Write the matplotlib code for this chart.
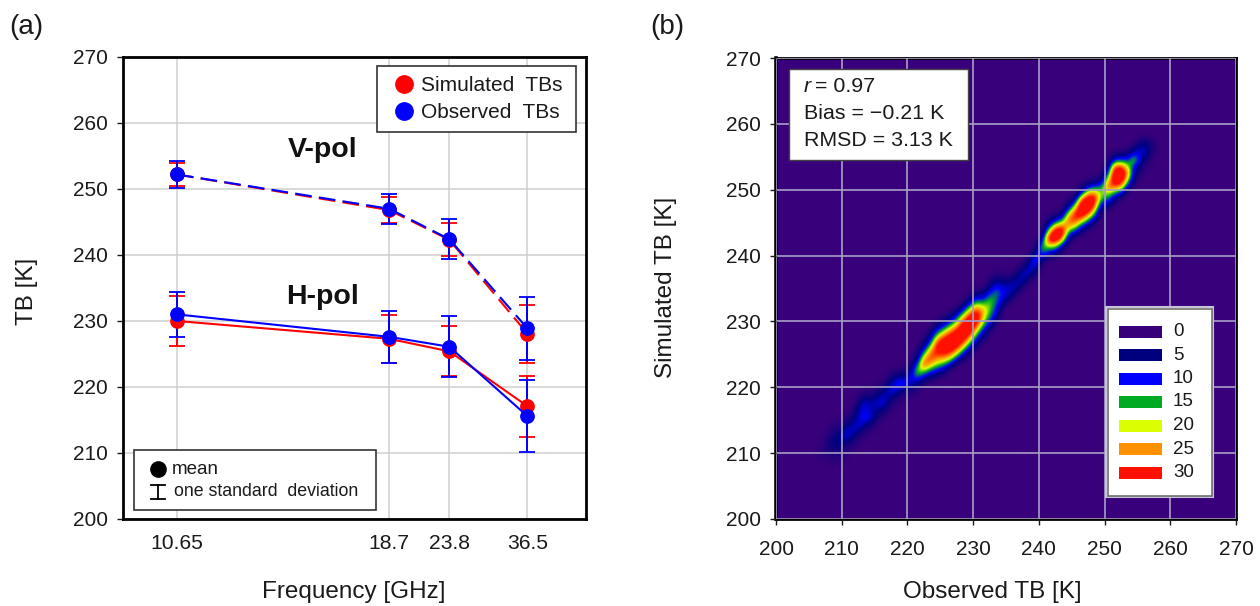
import numpy as np
import matplotlib
matplotlib.use("Agg")
import matplotlib.pyplot as plt
from matplotlib.colors import LinearSegmentedColormap
from matplotlib.patches import Rectangle
from matplotlib.lines import Line2D

plt.rcParams['font.family'] = ['Liberation Sans', 'DejaVu Sans']

W, H = 1260, 606

# ---------- data ----------
freq_labels = ['10.65', '18.7', '23.8', '36.5']
freq_pos = [177, 389.3, 449.3, 527.3]   # irregular category spacing

v_sim = [252.2, 246.8, 242.3, 228.1]
v_sim_sd = [1.8, 2.0, 2.5, 4.4]
v_obs = [252.2, 247.0, 242.4, 228.9]
v_obs_sd = [2.0, 2.3, 3.0, 4.75]
h_sim = [230.0, 227.3, 225.4, 217.1]
h_sim_sd = [3.75, 3.6, 3.8, 4.6]
h_obs = [231.0, 227.6, 226.1, 215.6]
h_obs_sd = [3.45, 3.9, 4.6, 5.4]

# density counts: observed TB -> (first simulated TB, counts per 1 K)
density_rows = {
    206: (209, [1, 1]),
    207: (209, [1, 2, 2, 1]),
    208: (208, [1, 2, 3, 5, 3, 2, 1]),
    209: (208, [1, 2, 3, 6, 5, 3, 1]),
    210: (209, [1, 2, 4, 9, 7, 3, 1]),
    211: (210, [1, 3, 6, 9, 5, 3, 1]),
    212: (211, [1, 2, 6, 10, 6, 7, 3, 1]),
    213: (212, [1, 3, 6, 13, 9, 10, 4, 1]),
    214: (213, [1, 4, 8, 7, 6, 4, 1]),
    215: (214, [1, 3, 5, 9, 6, 3, 1]),
    216: (215, [1, 4, 8, 9, 4, 2]),
    217: (216, [1, 2, 5, 10, 7, 3, 1]),
    218: (217, [1, 3, 7, 12, 6, 2]),
    219: (218, [1, 3, 13, 6, 2]),
    220: (218, [1, 3, 7, 9, 5, 2]),
    221: (219, [1, 5, 13, 19, 11, 4, 1]),
    222: (220, [1, 7, 18, 30, 22, 11, 4, 1]),
    223: (221, [4, 12, 24, 30, 25, 14, 6, 2]),
    224: (221, [2, 8, 18, 26, 32, 32, 22, 11, 4]),
    225: (222, [6, 15, 26, 32, 34, 30, 18, 8, 2]),
    226: (223, [9, 22, 32, 36, 34, 26, 14, 5, 1]),
    227: (224, [12, 25, 34, 36, 32, 22, 12, 4]),
    228: (224, [4, 13, 26, 34, 38, 34, 24, 12, 3]),
    229: (225, [4, 13, 24, 34, 38, 34, 24, 12, 3]),
    230: (226, [4, 11, 20, 30, 36, 32, 20, 10, 3]),
    231: (227, [3, 9, 16, 22, 24, 18, 9, 3]),
    232: (228, [2, 8, 13, 17, 18, 16, 9, 4, 1]),
    233: (230, [6, 9, 12, 14, 14, 9, 4, 1]),
    234: (232, [5, 8, 10, 7, 3, 1]),
    235: (233, [5, 8, 7, 3]),
    236: (234, [5, 8, 6, 2]),
    237: (235, [4, 8, 7, 2]),
    238: (236, [4, 9, 7, 2]),
    239: (237, [4, 10, 15, 5]),
    240: (239, [4, 15, 16, 6]),
    241: (239, [2, 9, 20, 34, 22, 8, 2]),
    242: (240, [7, 20, 36, 38, 22, 7, 1]),
    243: (241, [9, 26, 36, 28, 11, 2]),
    244: (242, [5, 14, 24, 28, 18, 5, 1]),
    245: (243, [8, 22, 30, 30, 18, 5]),
    246: (243, [2, 10, 26, 36, 38, 28, 9, 2]),
    247: (244, [5, 16, 30, 38, 36, 24, 7, 1]),
    248: (245, [6, 17, 28, 34, 26, 11, 2]),
    249: (247, [5, 14, 17, 12, 4, 1]),
    250: (247, [5, 13, 20, 28, 20, 10, 3]),
    251: (248, [5, 14, 28, 36, 36, 28, 10, 2]),
    252: (249, [9, 26, 36, 38, 30, 12, 3]),
    253: (250, [8, 20, 26, 20, 10, 4]),
    254: (251, [3, 6, 9, 20, 9, 3]),
    255: (252, [2, 3, 6, 9, 7, 3]),
    256: (253, [1, 3, 6, 6, 3]),
    257: (255, [1, 2, 1]),
}
level_labels = ['0', '5', '10', '15', '20', '25', '30']
level_colors = ['#38007a', '#00007f', '#0000ff', '#00aa22', '#dcff00', '#ff9000', '#ff1000']

BLUE = '#0000ff'
RED = '#ff0000'
GRID_A = '#cfcfcf'
GRID_B = '#a79fc4'
TXT = '#1a1a1a'
DASH = (0, (8, 3.5))


def axes_rect(l, t, r, b):
    return [l / W, 1 - b / H, (r - l) / W, (b - t) / H]


def style_frame(ax):
    for s in ax.spines.values():
        s.set_linewidth(2.0)
        s.set_color('black')


fig = plt.figure(figsize=(W / 100, H / 100), dpi=100, facecolor='white')

# ---------- panel (a) ----------
ax = fig.add_axes(axes_rect(123, 57, 586, 519))
ax.set_xlim(123, 586)
ax.set_ylim(200, 270)
ax.set_yticks(range(200, 271, 10))
ax.set_xticks(freq_pos)
ax.set_xticklabels(freq_labels)
ax.grid(True, color=GRID_A, lw=1.1)
ax.set_axisbelow(True)
style_frame(ax)
ax.tick_params(axis='y', length=4, width=1, labelsize=15, pad=7, colors=TXT)
ax.tick_params(axis='x', length=0, labelsize=15.2, pad=11, colors=TXT)

for mean, sd, col, ls in [(v_sim, v_sim_sd, RED, DASH),
                          (v_obs, v_obs_sd, BLUE, DASH),
                          (h_sim, h_sim_sd, RED, '-'),
                          (h_obs, h_obs_sd, BLUE, '-')]:
    ax.errorbar(freq_pos, mean, yerr=sd, color=col, lw=1.5, ls=ls, marker='o', ms=9.6,
                mec=col, capsize=5.8, capthick=1.3, elinewidth=1.4, zorder=3)

ax.text(323, 255.9, 'V-pol', fontsize=20.5, fontweight='bold', ha='center', va='center', color='#111111')
ax.text(323, 233.6, 'H-pol', fontsize=20.5, fontweight='bold', ha='center', va='center', color='#111111')

ax.add_patch(Rectangle((377 / W, 1 - 132 / H), (576 - 377) / W, (132 - 66) / H, transform=fig.transFigure,
                       fc='white', ec='#333333', lw=1.2, zorder=4.9, clip_on=False))
leg = ax.legend(handles=[Line2D([], [], ls='', marker='o', ms=12.5, color=RED, label='Simulated  TBs'),
                         Line2D([], [], ls='', marker='o', ms=12.5, color=BLUE, label='Observed  TBs')],
                loc='upper left', bbox_to_anchor=((378 - 123) / 463, (519 - 66) / 462),
                borderaxespad=0, fontsize=15, frameon=False,
                handletextpad=0.12, labelspacing=0.38, borderpad=0.5, handlelength=1.45)
leg.set_zorder(5)
for t in leg.get_texts():
    t.set_color(TXT)

fig.add_artist(Rectangle((134 / W, 1 - 510 / H), (376 - 134) / W, (510 - 450) / H, transform=fig.transFigure,
                         fc='white', ec='#333333', lw=1.2, zorder=5))
fig.add_artist(Line2D([157.5 / W], [1 - 469 / H], transform=fig.transFigure, marker='o', ms=11, color='black', zorder=6))
fig.add_artist(Line2D([158 / W, 158 / W], [1 - 485 / H, 1 - 499 / H], transform=fig.transFigure, color='black',
                      lw=1.3, zorder=6))
for yy in (485, 499):
    fig.add_artist(Line2D([151 / W, 165 / W], [1 - yy / H, 1 - yy / H], transform=fig.transFigure, color='black',
                          lw=1.3, zorder=6))
fig.text(172 / W, 1 - 470 / H, 'mean', fontsize=13.5, va='center', zorder=7, color=TXT)
fig.text(174 / W, 1 - 492 / H, 'one standard  deviation', fontsize=12.8, va='center', zorder=7, color=TXT)

# ---------- panel (b) ----------
bx = fig.add_axes(axes_rect(776, 58, 1236, 519))
grid = np.zeros((70, 70))
for obs, (first, counts) in density_rows.items():
    for k, c in enumerate(counts):
        grid[first + k - 200, obs - 200] = c
cmap = LinearSegmentedColormap.from_list('tb', level_colors, N=256)
bx.imshow(grid, origin='lower', extent=(200, 270, 200, 270), cmap=cmap, vmin=0, vmax=30,
          interpolation='bicubic', aspect='auto', zorder=1)
bx.set_xlim(200, 270)
bx.set_ylim(200, 270)
bx.set_xticks(range(200, 271, 10))
bx.set_yticks(range(200, 271, 10))
bx.grid(True, color=GRID_B, lw=1.2, zorder=2)
bx.set_axisbelow(False)
style_frame(bx)
bx.spines['left'].set_linewidth(2.6)
bx.tick_params(axis='y', length=4, width=1, labelsize=15, pad=7, colors=TXT)
bx.tick_params(axis='x', length=4, width=1, labelsize=15, pad=11, colors=TXT)

# statistics box
fig.add_artist(Rectangle((789 / W, 1 - 160 / H), (968 - 789) / W, (160 - 69) / H, transform=fig.transFigure,
                         fc='white', ec='#444444', lw=1, zorder=5))
fig.text(804 / W, 1 - 87 / H, 'r', fontsize=15.4, style='italic', va='center', zorder=6, color=TXT)
fig.text(815 / W, 1 - 87 / H, '= 0.97', fontsize=15.4, va='center', zorder=6, color=TXT)
fig.text(804 / W, 1 - 114 / H, 'Bias = \u22120.21 K', fontsize=15.4, va='center', zorder=6, color=TXT)
fig.text(804 / W, 1 - 141 / H, 'RMSD = 3.13 K', fontsize=15.4, va='center', zorder=6, color=TXT)

# colour key
fig.add_artist(Rectangle((1106 / W, 1 - 497 / H), (1213 - 1106) / W, (497 - 307) / H, transform=fig.transFigure,
                         fc='white', ec='#c8c4d8', lw=1.5, zorder=5))
fig.add_artist(Rectangle((1107.5 / W, 1 - 495.5 / H), (1211.5 - 1107.5) / W, (495.5 - 309) / H,
                         transform=fig.transFigure, fc='white', ec='#666666', lw=1.1, zorder=5))
for i, (lab, col) in enumerate(zip(level_labels, level_colors)):
    yy = 331.5 + i * 23.5
    fig.add_artist(Rectangle((1119 / W, 1 - (yy + 6) / H), 43 / W, 12 / H, transform=fig.transFigure,
                             fc=col, ec='none', zorder=6))
    fig.text(1173 / W, 1 - yy / H, lab, fontsize=13.5, va='center', zorder=6, color=TXT)

# ---------- titles / labels ----------
fig.text(353.5 / W, 1 - 592 / H, 'Frequency [GHz]', fontsize=17.5, ha='center', va='center', color=TXT)
fig.text(27 / W, 1 - 291 / H, 'TB [K]', fontsize=17.5, rotation=90, ha='center', va='center', color=TXT)
fig.text(992 / W, 1 - 592 / H, 'Observed TB [K]', fontsize=17.5, ha='center', va='center', color=TXT)
fig.text(666 / W, 1 - 287 / H, 'Simulated TB [K]', fontsize=17.5, rotation=90, ha='center', va='center', color=TXT)
fig.text(9 / W, 1 - 27 / H, '(a)', fontsize=20, va='center', color=TXT)
fig.text(650 / W, 1 - 27 / H, '(b)', fontsize=20, va='center', color=TXT)

fig.savefig('out.png', dpi=100, facecolor='white')
